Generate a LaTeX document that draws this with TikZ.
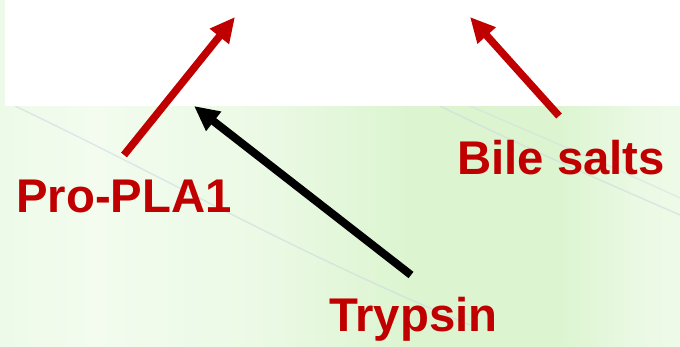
\documentclass[tikz,border=0pt]{standalone}
\usepackage{fontspec}
\setmainfont{Liberation Sans}
\usetikzlibrary{arrows.meta}
\definecolor{lblred}{RGB}{192,0,0}
\definecolor{bgA}{RGB}{234,249,228}
\definecolor{bgB}{RGB}{243,252,239}
\definecolor{bgC}{RGB}{220,245,208}
\definecolor{streak}{RGB}{205,214,224}
\pgfdeclarehorizontalshading{bgshade}{100bp}{
  color(0bp)=(bgA); color(10bp)=(bgB); color(20bp)=(bgA); color(32bp)=(bgB);
  color(45bp)=(bgA); color(55bp)=(bgC); color(66bp)=(bgC); color(72bp)=(bgA);
  color(82bp)=(bgB); color(92bp)=(bgA); color(100bp)=(bgB)}
\tikzset{
  lbl/.style={font=\fontsize{47.3}{52}\selectfont\bfseries, text=lblred, inner sep=0pt},
  redarrow/.style={draw=lblred, line width=7.5pt, -{Triangle[length=25pt,width=23pt]}},
  blackarrow/.style={draw=black, line width=8pt, -{Triangle[length=25pt,width=23pt]}},
  faint/.style={draw=streak, line width=1.4pt, opacity=0.55}
}
\begin{document}
\begin{tikzpicture}[x=1pt,y=-1pt]
  \useasboundingbox (0,0) rectangle (680,347);
  \shade[shading=bgshade] (0,0) rectangle (680,347);
  % faint diagonal streaks in the background
  \draw[faint] (15,106) .. controls (170,180) and (300,255) .. (470,325);
  \draw[faint] (440,106) .. controls (530,150) and (600,180) .. (680,215);
  \draw[faint,opacity=0.4] (470,106) .. controls (560,145) and (620,170) .. (680,198);
  % white panel
  \fill[white] (5,0) rectangle (680,106);
  % labels
  \node[lbl, anchor=base west] (pro) at (16,213) {Pro-PLA1};
  \node[lbl, anchor=base west] (bile) at (457,175) {Bile salts};
  \node[lbl, anchor=base west] (tryp) at (329,331) {Trypsin};
  % arrow ends
  \coordinate (proTail) at (124,155);
  \coordinate (proTip) at (235,17);
  \coordinate (bileTail) at (559,116);
  \coordinate (bileTip) at (470,17);
  \coordinate (trypTail) at (411,275);
  \coordinate (trypTip) at (194,106);
  \draw[redarrow] (proTail) -- (proTip);
  \draw[redarrow] (bileTail) -- (bileTip);
  \draw[blackarrow] (trypTail) -- (trypTip);
\end{tikzpicture}
\end{document}
